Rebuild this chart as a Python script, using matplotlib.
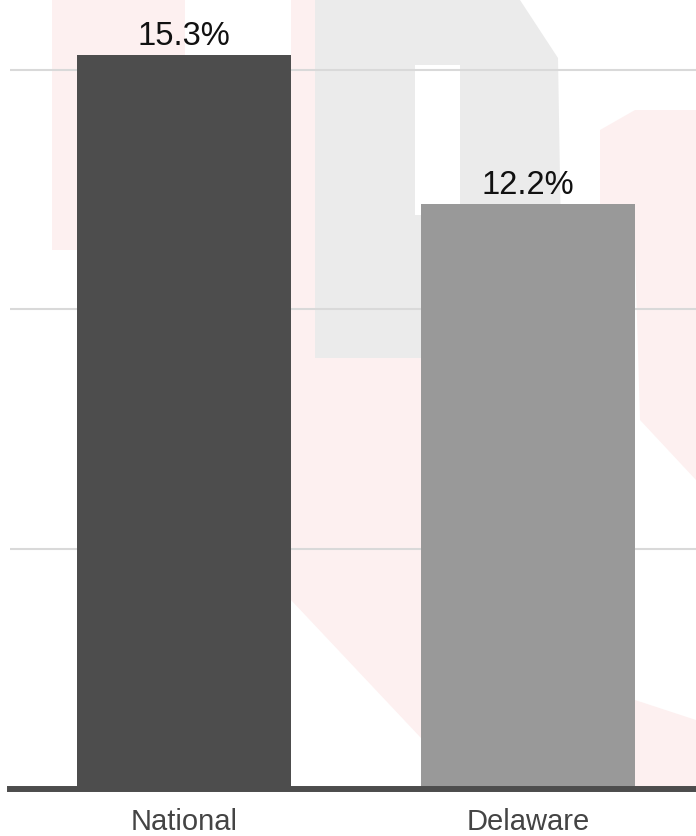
import matplotlib
matplotlib.use("Agg")
import matplotlib.pyplot as plt
from matplotlib.patches import Polygon, Rectangle

categories = ["National", "Delaware"]
values = [15.3, 12.2]
bar_colors = ["#4d4d4d", "#999999"]
grid_ticks = [5, 10, 15]

fig = plt.figure(figsize=(6.96, 8.36), dpi=100)

# faint background watermark (pixel coordinates)
bg = fig.add_axes([0, 0, 1, 1], zorder=0)
bg.set_xlim(0, 696)
bg.set_ylim(836, 0)
bg.axis("off")
pink = "#fdf0f0"
bg.add_patch(Polygon([(52, 0), (185, 0), (185, 250), (52, 250)],
                     closed=True, color=pink, lw=0))
bg.add_patch(Polygon([(291, 0), (315, 0), (315, 358), (421, 358), (421, 738), (291, 600)],
                     closed=True, color=pink, lw=0))
bg.add_patch(Polygon([(600, 130), (635, 110), (696, 110), (696, 480), (640, 420), (635, 250), (600, 250)],
                     closed=True, color=pink, lw=0))
bg.add_patch(Polygon([(635, 700), (696, 720), (696, 790), (635, 790)],
                     closed=True, color=pink, lw=0))
bg.add_patch(Polygon([(315, 0), (520, 0), (558, 58), (562, 300), (540, 358), (315, 358)],
                     closed=True, color="#ebebeb", lw=0))
bg.add_patch(Rectangle((415, 65), 45, 150, color="white", lw=0))

ax = fig.add_axes([10/696, 47/836, 686/696, 789/836], zorder=1)
ax.set_facecolor("none")
x = list(range(len(categories)))
ax.bar(x, values, width=0.622, color=bar_colors, zorder=3)
ax.set_xlim(-0.506, 1.488)
ax.set_ylim(0, 16.45)
ax.set_yticks(grid_ticks)
ax.yaxis.grid(True, color="#d9d9d9", linewidth=1.5, zorder=1)
ax.tick_params(axis="y", left=False, labelleft=False)
ax.set_xticks(x)
ax.set_xticklabels(categories, fontfamily="Liberation Sans", fontsize=21, color="#444444")
ax.tick_params(axis="x", bottom=False, pad=10.4)
for s in ["top", "right", "left"]:
    ax.spines[s].set_visible(False)
ax.spines["bottom"].set_color("#4d4d4d")
ax.spines["bottom"].set_linewidth(4.3)
ax.spines["bottom"].set_zorder(4)
for xi, v in zip(x, values):
    ax.annotate(f"{v}%", (xi, v), xytext=(0, 7.2), textcoords="offset points",
                ha="center", va="baseline", fontsize=23.5,
                fontfamily="Liberation Sans", color="#111111")
fig.savefig("out.png", dpi=100)
